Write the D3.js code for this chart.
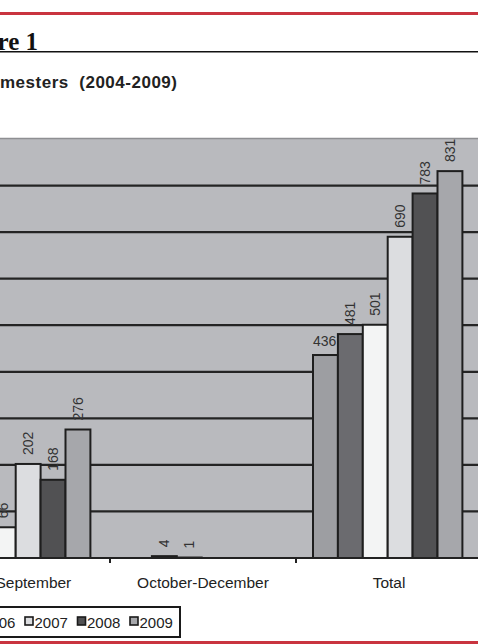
<!DOCTYPE html>
<html><head><meta charset="utf-8">
<script src="https://cdn.jsdelivr.net/npm/d3@7"></script>
<style>html,body{margin:0;padding:0;background:#fff;overflow:hidden}svg{display:block}</style>
</head><body>
<svg id="c" width="478" height="644"></svg>
<script>
const categories = ["July-September", "October-December", "Total"];
const years = ["2004", "2005", "2006", "2007", "2008", "2009"];
// values per year (null = not shown / outside the visible crop)
const v2004 = [null, null, 436];
const v2005 = [null, 4, 481];
const v2006 = [66, 1, 501];
const v2007 = [202, null, 690];
const v2008 = [168, null, 783];
const v2009 = [276, null, 831];
const yTicks = [100, 200, 300, 400, 500, 600, 700, 800];
const yMax = 900;
const titleText = "Figure 1";
const subtitleText = "mesters  (2004-2009)";

const series = [v2004, v2005, v2006, v2007, v2008, v2009];
const colors = ["#9d9ea2", "#6b6b6f", "#f3f4f4", "#dcdde0", "#515153", "#a6a7ab"];
const horizontalLabels = new Set(["Total|2004"]);

const svg = d3.select("#c");
const font = "'Liberation Sans', Arial, sans-serif";

// frame lines
svg.append("rect").attr("x", 0).attr("y", 12).attr("width", 478).attr("height", 3).attr("fill", "#c9343f");
svg.append("rect").attr("x", 0).attr("y", 641).attr("width", 478).attr("height", 3).attr("fill", "#c9343f");
svg.append("text").attr("x", 38).attr("y", 50).attr("text-anchor", "end")
  .attr("font-family", "'Liberation Serif', 'Times New Roman', serif").attr("font-weight", "bold")
  .attr("font-size", 25).attr("fill", "#111").text(titleText);
svg.append("rect").attr("x", 0).attr("y", 51).attr("width", 478).attr("height", 1.5).attr("fill", "#111");
svg.append("text").attr("x", 0).attr("y", 88)
  .attr("xml:space", "preserve").style("white-space", "pre")
  .attr("textLength", 177).attr("lengthAdjust", "spacing")
  .attr("font-family", font).attr("font-weight", "bold").attr("font-size", 17)
  .attr("fill", "#222").text(subtitleText);

const x0 = d3.scaleBand().domain(categories).range([-76, 482]).padding(0);
const x1 = d3.scaleBand().domain(years).range([17, 166.4]).padding(0);
const y = d3.scaleLinear().domain([0, yMax]).range([558, 139]);

// plot background
svg.append("rect").attr("x", x0.range()[0]).attr("y", y(yMax))
  .attr("width", x0.range()[1] - x0.range()[0]).attr("height", y(0) - y(yMax)).attr("fill", "#b9babe");
svg.append("line").attr("x1", 0).attr("x2", 478).attr("y1", y(yMax) - 0.5).attr("y2", y(yMax) - 0.5)
  .attr("stroke", "#8e8f92").attr("stroke-width", 1.5);

// gridlines
svg.append("g").selectAll("line").data(yTicks).join("line")
  .attr("x1", x0.range()[0]).attr("x2", x0.range()[1])
  .attr("y1", d => y(d)).attr("y2", d => y(d))
  .attr("stroke", "#242424").attr("stroke-width", 2.2);

// bars
const barData = [];
categories.forEach((c, ci) => years.forEach((yr, yi) => {
  const v = series[yi][ci];
  if (v !== null) barData.push({c, yr, yi, v});
}));
svg.append("g").selectAll("rect").data(barData).join("rect")
  .attr("x", d => x0(d.c) + x1(d.yr))
  .attr("y", d => y(d.v))
  .attr("width", x1.bandwidth())
  .attr("height", d => y(0) - y(d.v))
  .attr("fill", d => colors[d.yi])
  .attr("stroke", "#1e1e1e").attr("stroke-width", 2);

// labels
const lg = svg.append("g").attr("font-family", font).attr("font-size", 14).attr("fill", "#333");
barData.forEach(d => {
  const cx = x0(d.c) + x1(d.yr) + x1.bandwidth() / 2;
  const top = y(d.v);
  if (horizontalLabels.has(d.c + "|" + d.yr)) {
    lg.append("text").attr("x", x0(d.c) + x1(d.yr)).attr("y", top - 9).text(d.v);
  } else {
    lg.append("text").attr("transform", `translate(${cx},${top - 9}) rotate(-90)`)
      .attr("dy", "0.35em").attr("text-anchor", "start").text(d.v);
  }
});

// x axis
const ax = svg.append("g").attr("transform", `translate(0,${y(0)})`);
ax.append("line").attr("x1", x0.range()[0]).attr("x2", x0.range()[1]).attr("y1", 0).attr("y2", 0)
  .attr("stroke", "#222").attr("stroke-width", 2);
ax.selectAll("line.tk").data(categories.slice(1)).join("line").attr("class", "tk")
  .attr("x1", d => x0(d)).attr("x2", d => x0(d)).attr("y1", 0).attr("y2", 5)
  .attr("stroke", "#222").attr("stroke-width", 2);
ax.selectAll("text.cl").data(categories).join("text").attr("class", "cl")
  .attr("x", d => x0(d) + x0.bandwidth() / 2).attr("y", 30)
  .attr("text-anchor", "middle").attr("font-family", font).attr("font-size", 15.5)
  .attr("fill", "#222").text(d => d);

// legend
const step = 52.5;
const sq0 = 25 - 3 * step;
svg.append("rect").attr("x", sq0 - 20).attr("y", 607).attr("width", 180 - (sq0 - 20)).attr("height", 30)
  .attr("fill", "#fff").attr("stroke", "#1a1a1a").attr("stroke-width", 2);
const leg = svg.append("g").selectAll("g").data(years).join("g")
  .attr("transform", (d, i) => `translate(${sq0 + i * step},617)`);
leg.append("rect").attr("width", 8).attr("height", 8).attr("fill", (d, i) => colors[i])
  .attr("stroke", "#1a1a1a").attr("stroke-width", 1.6);
leg.append("text").attr("x", 9.5).attr("y", 10.5).attr("font-family", font).attr("font-size", 15)
  .attr("fill", "#222").text(d => d);
</script>
</body></html>
